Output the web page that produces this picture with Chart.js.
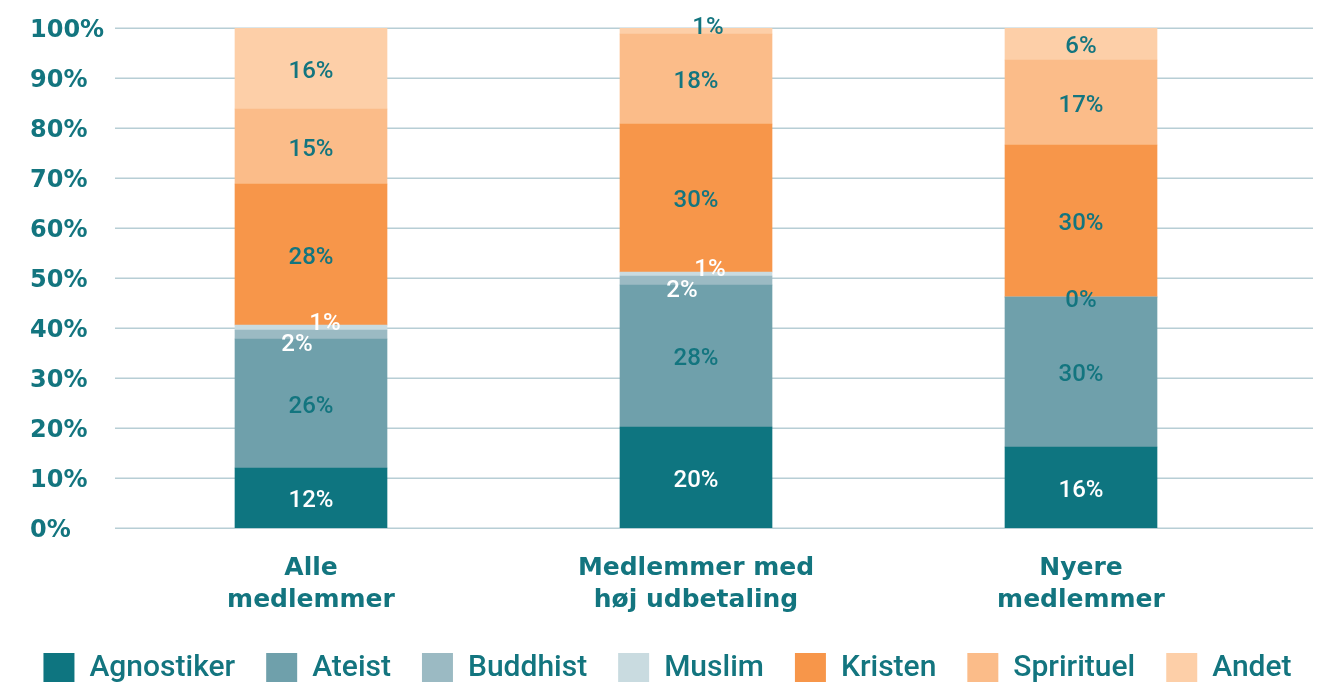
<!DOCTYPE html>
<html>
  <head>
    <title>Medlemmer og tro</title>
    <style>
      body { margin: 0; background: #fff; }
      .chart-container { position: relative; width: 1335px; height: 682px; }
    </style>
  </head>
  <body>
    <script src="https://cdn.jsdelivr.net/npm/chart.js"></script>

    <div class="chart-container">
      <canvas id="myChart"></canvas>
    </div>

    <script>
      // Groups on the x axis (two lines each)
      const groups = [
        ['Alle', 'medlemmer'],
        ['Medlemmer med', 'høj udbetaling'],
        ['Nyere', 'medlemmer']
      ];

      // Share of each group in percent
      const agnostiker = [12.0, 20.2, 16.2];
      const ateist     = [25.8, 28.4, 30.0];
      const buddhist   = [1.8, 1.8, 0];
      const muslim     = [1.0, 0.8, 0];
      const kristen    = [28.2, 29.6, 30.4];
      const spirituel  = [15.0, 18.0, 17.0];
      const andet      = [16.2, 1.2, 6.4];

      const yTicks = [0, 10, 20, 30, 40, 50, 60, 70, 80, 90, 100];

      const teal = '#13757f';

      // Horizontal grid lines run a bit wider than the plot area
      const gridLines = {
        id: 'gridLines',
        beforeDatasetsDraw(chart) {
          const ctx = chart.ctx;
          const y = chart.scales.y;
          ctx.save();
          ctx.strokeStyle = '#b7ced5';
          ctx.lineWidth = 1.5;
          yTicks.forEach(t => {
            const py = Math.round(y.getPixelForValue(t)) + 0.25;
            ctx.beginPath();
            ctx.moveTo(115, py);
            ctx.lineTo(1313, py);
            ctx.stroke();
          });
          ctx.restore();
        }
      };

      // Percent labels inside the bar segments
      const segmentLabels = {
        id: 'segmentLabels',
        afterDatasetsDraw(chart) {
          const ctx = chart.ctx;
          ctx.save();
          ctx.font = '500 24px Roboto';
          ctx.textAlign = 'center';
          ctx.textBaseline = 'middle';
          chart.data.datasets.forEach((ds, di) => {
            const meta = chart.getDatasetMeta(di);
            meta.data.forEach((bar, i) => {
              const v = ds.data[i];
              let x = bar.x;
              let y = (bar.y + bar.base) / 2 + 3;
              let color = teal;
              if (ds.label === 'Agnostiker') color = '#ffffff';
              if (ds.label === 'Buddhist') {
                if (v > 0) { color = '#ffffff'; x -= 14; y += 7; }
                else { y += 1; }
              }
              if (ds.label === 'Muslim') {
                if (v === 0) return;
                color = '#ffffff'; x += 14; y -= 7;
              }
              if (ds.label === 'Andet' && v < 3) { x += 12; y -= 6; }
              ctx.fillStyle = color;
              ctx.fillText(Math.round(v) + '%', x, y);
            });
          });
          ctx.restore();
        }
      };

      const chartData = {
        labels: groups,
        datasets: [
          { label: 'Agnostiker', data: agnostiker, backgroundColor: '#0e7580' },
          { label: 'Ateist', data: ateist, backgroundColor: '#6fa0ab' },
          { label: 'Buddhist', data: buddhist, backgroundColor: '#9bbac3' },
          { label: 'Muslim', data: muslim, backgroundColor: '#c9dbe0' },
          { label: 'Kristen', data: kristen, backgroundColor: '#f7964a' },
          { label: 'Sprirituel', data: spirituel, backgroundColor: '#fbbc89' },
          { label: 'Andet', data: andet, backgroundColor: '#fdcfa8' }
        ]
      };

      // empty axes used only as spacers, so the legend keeps the full width
      const spacer = (pos, w) => ({
        type: 'linear',
        position: pos,
        weight: 10,
        grid: { display: false },
        border: { display: false },
        ticks: { display: false },
        afterFit(scale) { scale.width = w; }
      });

      const ctx = document.getElementById('myChart').getContext('2d');
      const chart = new Chart(ctx, {
        type: 'bar',
        data: chartData,
        plugins: [gridLines, segmentLabels],
        options: {
          responsive: true,
          maintainAspectRatio: false,
          animation: false,
          barThickness: 152,
          layout: {
            padding: { left: 0, right: 0, top: 28, bottom: -12 }
          },
          plugins: {
            tooltip: { enabled: false },
            legend: {
              position: 'bottom',
              labels: {
                boxWidth: 31,
                boxHeight: 31,
                padding: 31,
                color: teal,
                font: { family: 'Roboto', size: 30, weight: '500' }
              }
            }
          },
          scales: {
            x: {
              stacked: true,
              grid: { display: false },
              border: { display: false },
              ticks: {
                color: teal,
                padding: 16,
                font: { family: 'DejaVu Sans', size: 25, weight: 'bold', lineHeight: 1.28 }
              },
              afterFit(scale) { scale.height = 94; }
            },
            y: {
              stacked: true,
              min: 0,
              max: 100,
              grid: { display: false },
              border: { display: false },
              ticks: {
                stepSize: 10,
                crossAlign: 'far',
                labelOffset: 3,
                color: teal,
                font: { family: 'DejaVu Sans', size: 24, weight: 'bold' },
                callback: v => v + '%'
              },
              afterFit(scale) { scale.width = 88.5; }
            },
            padLeft: spacer('left', 30),
            padRight: spacer('right', 61.5)
          }
        }
      });
    </script>
  </body>
</html>
